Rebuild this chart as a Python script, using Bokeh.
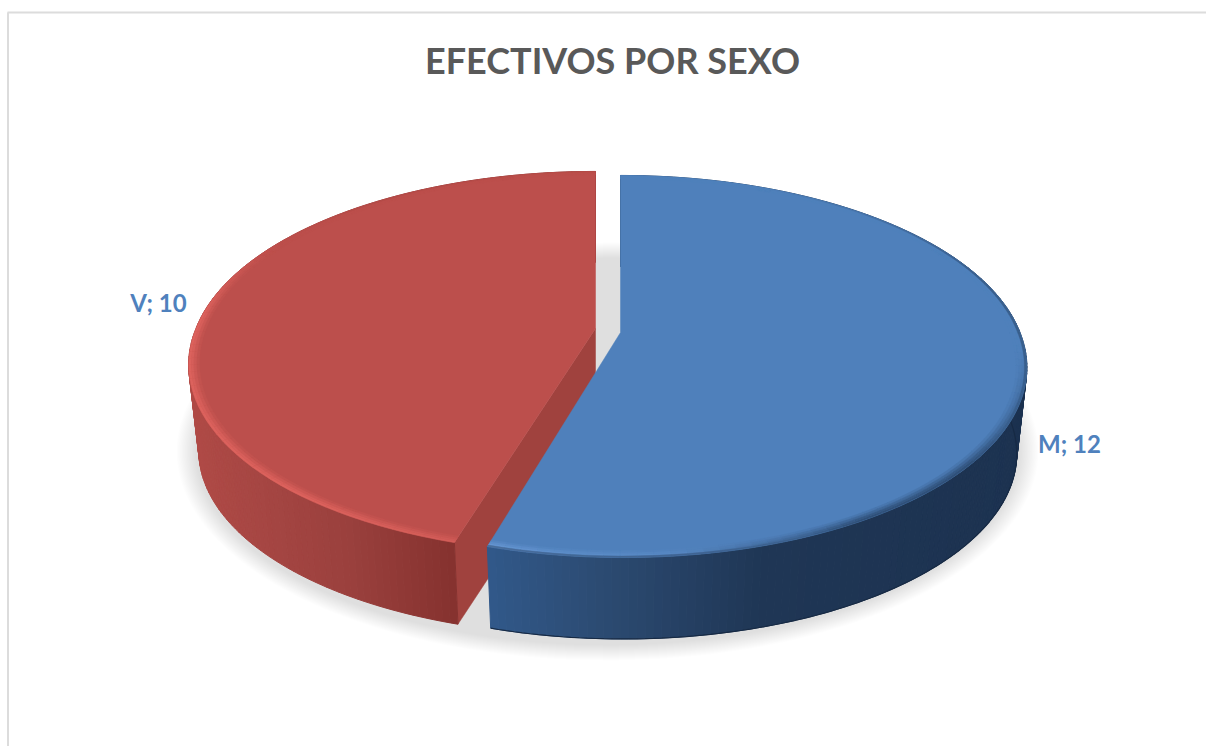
import numpy as np
from bokeh.plotting import figure
from bokeh.models import Range1d
from bokeh.core.properties import value
from bokeh.embed import file_html
from bokeh.resources import INLINE

# ---- chart data ----
title_text = "EFECTIVOS POR SEXO"
categories = ["M", "V"]
values = [12, 10]

# ---- styling / geometry ----
W, H = 1206, 746
A, B, K = 399.5, 185.0, 0.178      # perspective of the disc
WALL, BOTTOM = 87.0, 0.975         # wall height, scale of lower rim
APEX = {"M": (620.0, 332.0), "V": (595.0, 328.0)}
SHEAR = {"M": 0.012, "V": -0.025}  # slight lean of the front half
FACE = {"M": "#4f80bb", "V": "#bc4f4c"}
INNER = "#a0423e"
LABEL_POS = {"M": (1069, 443), "V": (158, 302)}
TITLE_POS = (612, 59)


def rgb(h):
    return np.array([int(h[i:i + 2], 16) for i in (1, 3, 5)], float)


def mix(a, b, t):
    t = float(np.clip(t, 0, 1))
    c = rgb(a) * (1 - t) + rgb(b) * t
    return "#%02x%02x%02x" % tuple(int(round(x)) for x in c)


def ramp(stops, x):
    xs = [s[0] for s in stops]
    if x <= xs[0]:
        return stops[0][1]
    if x >= xs[-1]:
        return stops[-1][1]
    for (x0, c0), (x1, c1) in zip(stops, stops[1:]):
        if x0 <= x <= x1:
            return mix(c0, c1, (x - x0) / (x1 - x0))


def top(cat, th, r=1.0):
    cx, cy = APEX[cat]
    u, v = r * np.sin(th), r * np.cos(th)
    d = 1 + K * v
    dy = -B * v / d
    return cx + A * u / d + SHEAR[cat] * max(dy, 0), cy + dy


def low(cat, th, r=1.0):
    cx, cy = APEX[cat]
    x, y = top(cat, th, r)
    return cx + BOTTOM * (x - cx), cy + WALL + BOTTOM * (y - cy)


fracs = np.array(values, float) / sum(values)
edges = np.concatenate([[0], np.cumsum(fracs)]) * 2 * np.pi
span = {c: (edges[i], edges[i + 1]) for i, c in enumerate(categories)}

p = figure(width=W, height=H, x_range=Range1d(0, W), y_range=Range1d(H, 0),
           toolbar_location=None, output_backend="svg", min_border=0,
           x_axis_location=None, y_axis_location=None)
p.grid.visible = False
p.outline_line_color = None
p.background_fill_color = "#ffffff"
p.border_fill_color = "#ffffff"

# chart frame
p.line([7.5, 7.5], [H, 12], line_color="#dcdcdc", line_width=2)
p.line([7, W], [12, 12], line_color="#dcdcdc", line_width=2)

# soft shadow below the disc
tt = np.linspace(0, 2 * np.pi, 180)
for d in np.arange(0, 20, 1.25):
    p.patch(607 + (431 - d) * np.cos(tt), 451 + (209 - d * 0.8) * np.sin(tt),
            fill_color="#000000", fill_alpha=0.0068, line_color=None)

WALLS = {
    "M": [(487, "#31598a"), (600, "#2c4b72"), (760, "#1f3655"), (1030, "#1c3250")],
    "V": [(190, "#b04a46"), (260, "#a64643"), (350, "#9a403d"), (460, "#84312e")],
}
RIM = {"M": "#6c9cd8", "V": "#dc625d"}
EDGE = {"M": "#1f3655", "V": "#a0443f"}


def rim_strength(cat, deg):
    if cat == "M":
        return float(np.interp(deg, [150, 185, 196.4], [0, 0.55, 1]))
    return float(np.interp(deg, [196, 215, 275, 300], [0.7, 1, 1, 0]))


def edge_strength(cat, deg, w):
    # dark soft edge where the face meets its wall or the background
    if cat == "M":
        front = float(np.interp(deg, [95, 130, 150, 175], [0, 1, 1, 0]))
        back = float(np.interp(deg, [25, 70, 95], [0, 0.45, 0.45]))
        return max(front * w * 0.65, back if w == 1.0 else 0)
    back = float(np.interp(deg, [300, 320, 350], [0, 0.35, 0.2]))
    return back if w == 1.0 else 0


def draw_wall(cat):
    a, b = span[cat]
    ths = np.linspace(a, b, int((b - a) * 180 / np.pi) + 1)
    xs, ys, cols = [], [], []
    for t0, t1 in zip(ths, ths[1:]):
        x0, y0 = top(cat, t0)
        x1, y1 = top(cat, t1)
        x2, y2 = low(cat, t1)
        x3, y3 = low(cat, t0)
        xs.append([x0, x1, x2, x3])
        ys.append([y0, y1, y2, y3])
        cols.append(ramp(WALLS[cat], (x0 + x1 + x2 + x3) / 4))
    p.patches(xs, ys, fill_color=cols, line_color=cols, line_width=1)
    if cat == "M":
        q = [low(cat, t) for t in ths]
        p.line([v[0] for v in q], [v[1] for v in q], line_color="#172a44", line_width=1.2)


def draw_top(cat):
    a, b = span[cat]
    cx, cy = APEX[cat]
    ths = np.linspace(a, b, 200)
    pts = [top(cat, t) for t in ths]
    p.patch([cx] + [q[0] for q in pts], [cy] + [q[1] for q in pts],
            fill_color=FACE[cat], line_color=FACE[cat], line_width=0.5)
    # soft bevel along the outer edge
    step = np.linspace(a, b, int((b - a) * 90 / np.pi) + 1)
    rings = [(0.974, 0.981, 0.2), (0.981, 0.988, 0.5), (0.988, 0.994, 0.8), (0.994, 1.0, 1.0)]
    for r0, r1, w in rings:
        xs, ys, cols = [], [], []
        for t0, t1 in zip(step, step[1:]):
            deg = np.degrees((t0 + t1) / 2)
            c = mix(FACE[cat], RIM[cat], rim_strength(cat, deg) * w)
            c = mix(c, EDGE[cat], edge_strength(cat, deg, w))
            q = [top(cat, t0, r0), top(cat, t1, r0), top(cat, t1, r1), top(cat, t0, r1)]
            xs.append([v[0] for v in q])
            ys.append([v[1] for v in q])
            cols.append(c)
        p.patches(xs, ys, fill_color=cols, line_color=cols, line_width=0.3)


# red slice: cut wall, outer wall, top
a_v = span["V"][0]
cxv, cyv = APEX["V"]
cx0, cy0 = top("V", a_v)
cx1, cy1 = low("V", a_v)
p.patch([cxv, cx0, cx1, cxv], [cyv, cy0, cy1, cyv + WALL],
        fill_color=INNER, line_color=INNER, line_width=0.5)
draw_wall("V")
draw_top("V")
# blue slice in front
draw_wall("M")
draw_top("M")

# texts
p.text([TITLE_POS[0]], [TITLE_POS[1]], text=[title_text], text_font=value("Lato"),
       text_font_style="bold", text_font_size="36px", text_color="#595959",
       text_align="center", text_baseline="middle")
for c, v in zip(categories, values):
    x, y = LABEL_POS[c]
    p.text([x], [y], text=[f"{c}; {v}"], text_font=value("Lato"), text_font_style="bold",
           text_font_size="24px", text_color="#4f81bd", text_align="center",
           text_baseline="middle")

open("out.html", "w").write(file_html(p, INLINE))
